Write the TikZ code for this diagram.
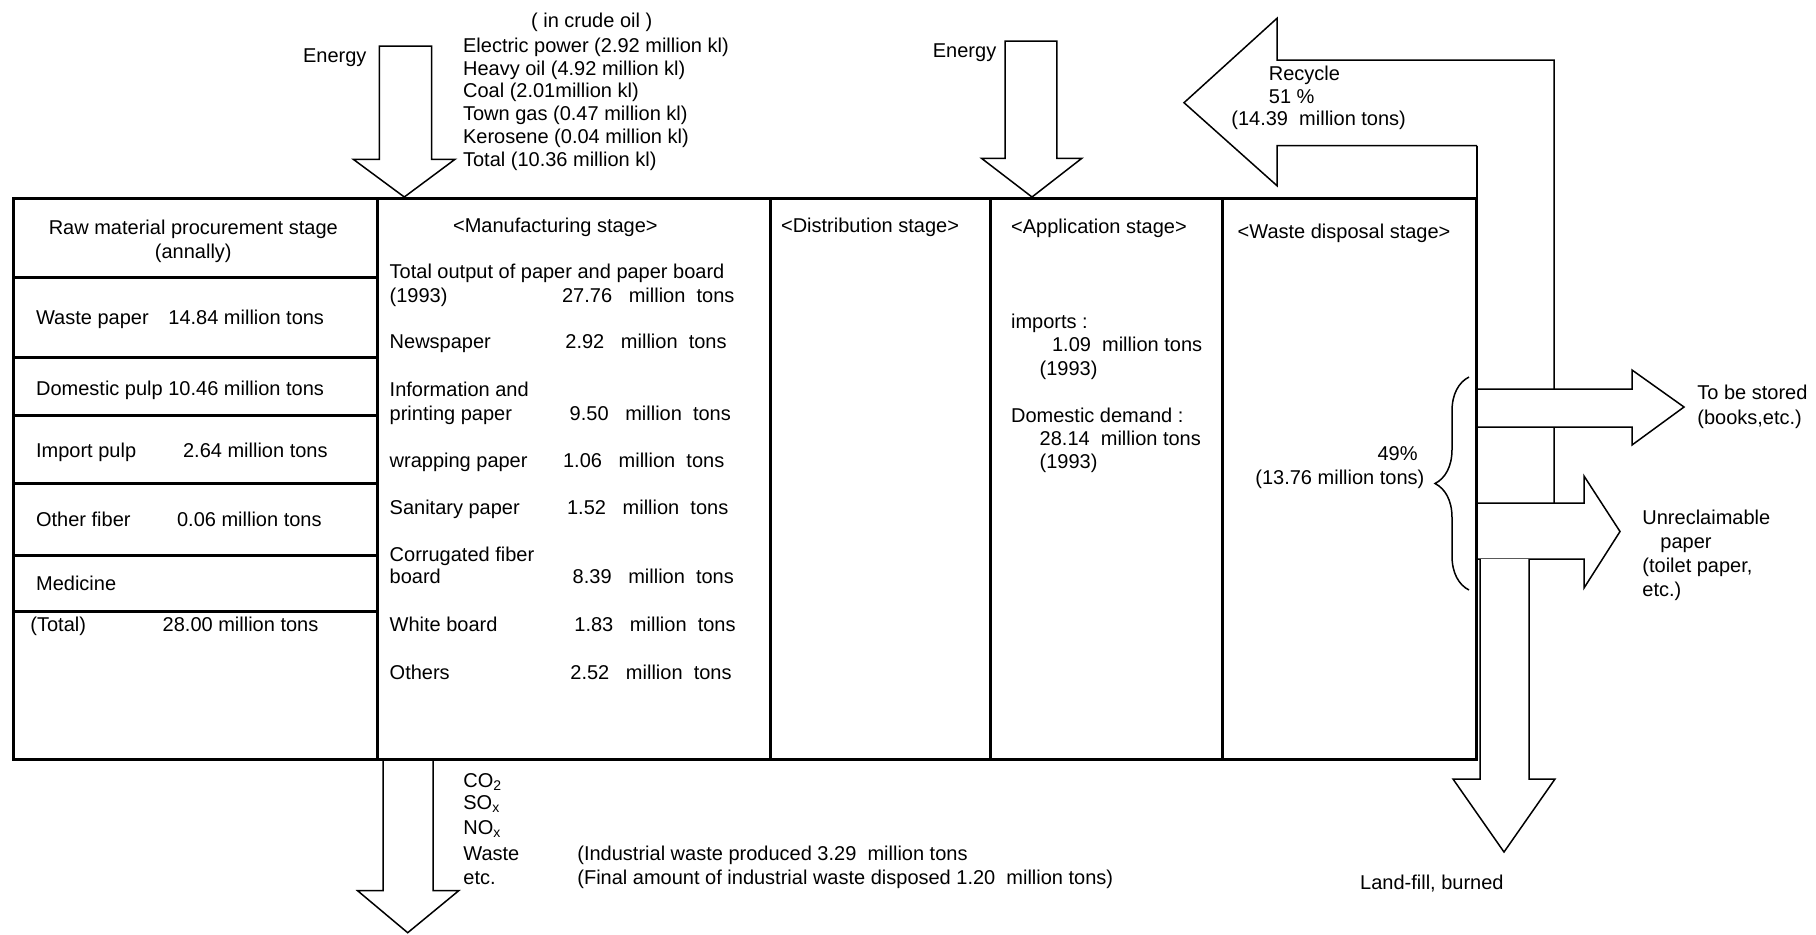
\documentclass[tikz,border=0pt]{standalone}
\usepackage{fontspec}
\setmainfont{Liberation Sans}
\usetikzlibrary{decorations.pathreplacing}

\begin{document}
\begin{tikzpicture}[
  x=0.5pt, y=-0.5pt,
  every node/.style={font=\fontsize{10}{11.5}\selectfont, inner sep=0pt},
  txt/.style={anchor=base west},
  rtxt/.style={anchor=base east},
  ctxt/.style={anchor=base},
  frame/.style={draw, line width=1.5pt},
  flow/.style={draw, line width=0.75pt, fill=white, line join=miter}
]
\useasboundingbox (0,0) rectangle (1816,934);

% energy inputs
\draw[flow] (379.3,46) -- (431.7,46) -- (431.7,159.3) -- (455,159.3) -- (404.3,197) -- (353.3,159.3) -- (379.3,159.3) -- cycle;
\draw[flow] (1005.2,41) -- (1056.9,41) -- (1056.9,158.3) -- (1081.8,158.3) -- (1032,197) -- (981.5,158.3) -- (1005.2,158.3) -- cycle;

% recycle loop and outputs
\draw[flow, fill=none] (1477,145.7) -- (1277,145.7) -- (1277,185.7) -- (1184,102.7) -- (1277,18.3) -- (1277,60) -- (1554,60) -- (1554,503);
\draw[flow, fill=none] (1477,145.7) -- (1477,198);
\draw[flow] (1477,389) -- (1632,389) -- (1632,370) -- (1684,407) -- (1632,445) -- (1632,427) -- (1477,427);
\draw[flow] (1477,503) -- (1584,503) -- (1584,476) -- (1620,531.5) -- (1584,588) -- (1584,559) -- (1477,559);
\draw[flow] (1480,559) -- (1480,779) -- (1453,779) -- (1504,852) -- (1555,779) -- (1529,779) -- (1529,559);

% emissions
\draw[flow] (383,759) -- (383,890.7) -- (357.6,890.7) -- (407.7,932.7) -- (458.7,890.7) -- (433,890.7) -- (433,759);

% stage table
\draw[frame] (13,198) rectangle (1476,759);
\draw[frame] (377.5,198) -- (377.5,759);
\draw[frame] (770,198) -- (770,759);
\draw[frame] (990,198) -- (990,759);
\draw[frame] (1222,198) -- (1222,759);
\draw[frame] (13,277.7) -- (377.5,277.7);
\draw[frame] (13,357.2) -- (377.5,357.2);
\draw[frame] (13,415.7) -- (377.5,415.7);
\draw[frame] (13,483.4) -- (377.5,483.4);
\draw[frame] (13,555.1) -- (377.5,555.1);
\draw[frame] (13,611) -- (377.5,611);

% top labels
\node[ctxt] (crude) at (591.7,27.7) {( in crude oil )};
\node[txt] (elec) at (462.7,52) {Electric power (2.92 million kl)};
\node[txt] (heavy) at (462.7,75.3) {Heavy oil (4.92 million kl)};
\node[txt] (coal) at (462.7,97.5) {Coal (2.01million kl)};
\node[txt] (gas) at (462.7,120.3) {Town gas (0.47 million kl)};
\node[txt] (kero) at (462.7,143.7) {Kerosene (0.04 million kl)};
\node[txt] (etotal) at (462.7,166.3) {Total (10.36 million kl)};
\node[txt] (energyA) at (302.7,62) {Energy};
\node[txt] (energyB) at (932.5,57) {Energy};
\node[txt] (recyc) at (1268.5,80.3) {Recycle};
\node[txt] (recpct) at (1268.5,103.7) {51 \%};
\node[txt] (recamt) at (1231,125.3) {(14.39\ \ million tons)};

% raw material stage
\node[ctxt] (rawA) at (193.3,234) {Raw material procurement stage};
\node[ctxt] (rawB) at (193.3,258) {(annally)};
\node[txt] (wpN) at (35.7,324.6) {Waste paper};
\node[txt] (wpV) at (168,324.6) {14.84 million tons};
\node[txt] (dpN) at (35.7,395) {Domestic pulp 10.46 million tons};
\node[txt] (ipN) at (35.7,457) {Import pulp};
\node[txt] (ipV) at (182.7,457) {2.64 million tons};
\node[txt] (ofN) at (35.7,526) {Other fiber};
\node[txt] (ofV) at (176.7,526) {0.06 million tons};
\node[txt] (medN) at (35.7,590) {Medicine};
\node[txt] (totN) at (30,631.7) {(Total)};
\node[txt] (totV) at (162.3,631.7) {28.00 million tons};

% manufacturing stage
\node[txt] (manu) at (452.7,232) {<Manufacturing stage>};
\node[txt] (outA) at (389.3,278.4) {Total output of paper and paper board};
\node[txt] (outB) at (389.3,302.4) {(1993)};
\node[txt] (outV) at (561.7,302.4) {27.76\ \ \ million\ \ tons};
\node[txt] (newsN) at (389.3,348.7) {Newspaper};
\node[txt] (newsV) at (565,348.7) {2.92\ \ \ million\ \ tons};
\node[txt] (infoA) at (389.3,396.8) {Information and};
\node[txt] (infoB) at (389.3,420) {printing paper};
\node[txt] (infoV) at (569.3,420) {9.50\ \ \ million\ \ tons};
\node[txt] (wrapN) at (389.3,467) {wrapping paper};
\node[txt] (wrapV) at (562.7,467) {1.06\ \ \ million\ \ tons};
\node[txt] (sanN) at (389.3,514) {Sanitary paper};
\node[txt] (sanV) at (566.7,514) {1.52\ \ \ million\ \ tons};
\node[txt] (corA) at (389.3,561.4) {Corrugated fiber};
\node[txt] (corB) at (389.3,583.6) {board};
\node[txt] (corV) at (572.3,583.6) {8.39\ \ \ million\ \ tons};
\node[txt] (whiteN) at (389.3,631) {White board};
\node[txt] (whiteV) at (574,631) {1.83\ \ \ million\ \ tons};
\node[txt] (othN) at (389.3,679) {Others};
\node[txt] (othV) at (570,679) {2.52\ \ \ million\ \ tons};

% distribution and application stages
\node[txt] (dist) at (780.7,232) {<Distribution stage>};
\node[txt] (appl) at (1010.7,233.7) {<Application stage>};
\node[txt] (impA) at (1010.7,328) {imports :};
\node[txt] (impB) at (1051.7,351) {1.09\ \ million tons};
\node[txt] (impC) at (1039.3,375.3) {(1993)};
\node[txt] (domA) at (1010.7,422) {Domestic demand :};
\node[txt] (domB) at (1039.3,445.3) {28.14\ \ million tons};
\node[txt] (domC) at (1039.3,468.7) {(1993)};

% waste disposal stage
\node[txt] (waste) at (1237.3,238.7) {<Waste disposal stage>};
\node[rtxt] (dispA) at (1418,460) {49\%};
\node[txt] (dispB) at (1255,484) {(13.76 million tons)};
\draw[decorate, decoration={brace, amplitude=17pt}, line width=0.75pt] (1469,590) -- (1469,377);

% outputs
\node[txt] (storeA) at (1697,399) {To be stored};
\node[txt] (storeB) at (1697,424) {(books,etc.)};
\node[txt] (unrA) at (1642,524) {Unreclaimable};
\node[txt] (unrB) at (1660,548) {paper};
\node[txt] (unrC) at (1642,572) {(toilet paper,};
\node[txt] (unrD) at (1642,596) {etc.)};
\node[rtxt] (land) at (1504,889.7) {Land-fill, burned};

% emissions text
\node[txt] (co) at (463,787) {CO\textsubscript{2}};
\node[txt] (so) at (463,809) {SO\textsubscript{x}};
\node[txt] (no) at (463,834) {NO\textsubscript{x}};
\node[txt] (wst) at (463,860) {Waste};
\node[txt] (etc) at (463,884) {etc.};
\node[txt] (indA) at (577,860) {(Industrial waste produced 3.29\ \ million tons};
\node[txt] (indB) at (577,884) {(Final amount of industrial waste disposed 1.20\ \ million tons)};
\end{tikzpicture}
\end{document}
